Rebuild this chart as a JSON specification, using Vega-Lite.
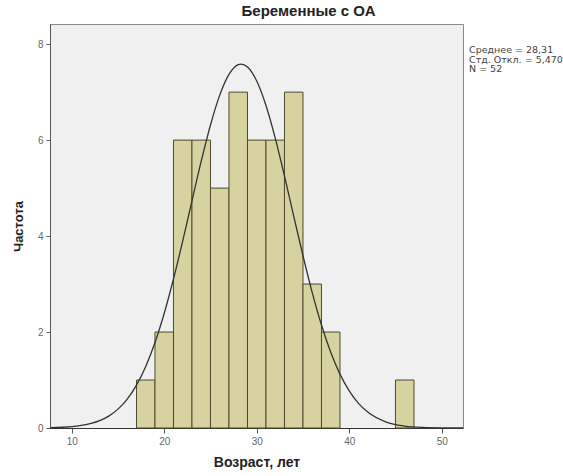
{
  "$schema": "https://vega.github.io/schema/vega-lite/v6.json",
  "width": 413,
  "height": 404,
  "autosize": {"type": "none"},
  "padding": {"left": 50, "top": 24, "right": 100, "bottom": 48},
  "background": "#ffffff",
  "config": {
    "view": {"fill": "#f0f0f0", "stroke": "#8a8a8a", "strokeWidth": 1},
    "font": "Liberation Sans"
  },
  "title": {
    "text": "Беременные с ОА",
    "font": "Liberation Sans",
    "fontSize": 15,
    "fontWeight": "bold",
    "color": "#222222",
    "anchor": "middle",
    "offset": 5,
    "dx": 52
  },
  "datasets": {
    "bars": [
      {"bin_start": 17, "bin_end": 19, "count": 1},
      {"bin_start": 19, "bin_end": 21, "count": 2},
      {"bin_start": 21, "bin_end": 23, "count": 6},
      {"bin_start": 23, "bin_end": 25, "count": 6},
      {"bin_start": 25, "bin_end": 27, "count": 5},
      {"bin_start": 27, "bin_end": 29, "count": 7},
      {"bin_start": 29, "bin_end": 31, "count": 6},
      {"bin_start": 31, "bin_end": 33, "count": 6},
      {"bin_start": 33, "bin_end": 35, "count": 7},
      {"bin_start": 35, "bin_end": 37, "count": 3},
      {"bin_start": 37, "bin_end": 39, "count": 2},
      {"bin_start": 45, "bin_end": 47, "count": 1}
    ],
    "curve": [
      {"age": 7.7, "freq": 0.006},
      {"age": 10, "freq": 0.028},
      {"age": 12, "freq": 0.089},
      {"age": 14, "freq": 0.247},
      {"age": 15, "freq": 0.393},
      {"age": 16, "freq": 0.603},
      {"age": 17, "freq": 0.894},
      {"age": 18, "freq": 1.284},
      {"age": 19, "freq": 1.782},
      {"age": 20, "freq": 2.392},
      {"age": 21, "freq": 3.105},
      {"age": 22, "freq": 3.899},
      {"age": 23, "freq": 4.735},
      {"age": 24, "freq": 5.561},
      {"age": 25, "freq": 6.316},
      {"age": 26, "freq": 6.938},
      {"age": 27, "freq": 7.37},
      {"age": 28, "freq": 7.573},
      {"age": 28.31, "freq": 7.585},
      {"age": 29, "freq": 7.525},
      {"age": 30, "freq": 7.232},
      {"age": 31, "freq": 6.721},
      {"age": 32, "freq": 6.041},
      {"age": 33, "freq": 5.252},
      {"age": 34, "freq": 4.415},
      {"age": 35, "freq": 3.59},
      {"age": 36, "freq": 2.823},
      {"age": 37, "freq": 2.147},
      {"age": 38, "freq": 1.579},
      {"age": 39, "freq": 1.123},
      {"age": 40, "freq": 0.773},
      {"age": 41, "freq": 0.514},
      {"age": 42, "freq": 0.331},
      {"age": 44, "freq": 0.124},
      {"age": 46, "freq": 0.041},
      {"age": 48, "freq": 0.012},
      {"age": 50, "freq": 0.003},
      {"age": 52.3, "freq": 0.001}
    ],
    "stats": [
      {"label": ["Среднее = 28,31", " Стд. Откл. = 5,470", "N = 52"]}
    ]
  },
  "layer": [
    {
      "data": {"name": "bars"},
      "mark": {"type": "rect", "fill": "#d6d3a0", "stroke": "#4f4a2c", "strokeWidth": 1},
      "encoding": {
        "x": {
          "field": "bin_start",
          "type": "quantitative",
          "scale": {"domain": [7.65, 52.3], "nice": false, "zero": false},
          "axis": {
            "title": "Возраст, лет",
            "values": [10, 20, 30, 40, 50],
            "grid": false,
            "domain": true,
            "domainColor": "#333333",
            "tickColor": "#555555",
            "tickSize": 5,
            "labelFontSize": 10,
            "labelColor": "#666666",
            "labelPadding": 3,
            "titleFont": "Liberation Sans",
            "titleFontSize": 14,
            "titleFontWeight": "bold",
            "titleColor": "#222222",
            "titlePadding": 9
          }
        },
        "x2": {"field": "bin_end"},
        "y": {
          "field": "count",
          "type": "quantitative",
          "scale": {"domain": [0, 8.42], "nice": false},
          "axis": {
            "title": "Частота",
            "values": [0, 2, 4, 6, 8],
            "grid": false,
            "domain": true,
            "domainColor": "#555555",
            "tickColor": "#555555",
            "tickSize": 4,
            "labelFontSize": 10,
            "labelColor": "#666666",
            "labelPadding": 3,
            "titleFont": "Liberation Sans",
            "titleFontSize": 13,
            "titleFontWeight": "bold",
            "titleColor": "#222222",
            "titlePadding": 12
          }
        },
        "y2": {"datum": 0}
      }
    },
    {
      "data": {"name": "curve"},
      "mark": {"type": "line", "color": "#333333", "strokeWidth": 1.3, "interpolate": "monotone", "clip": true},
      "encoding": {
        "x": {"field": "age", "type": "quantitative"},
        "y": {"field": "freq", "type": "quantitative"}
      }
    },
    {
      "data": {"name": "stats"},
      "mark": {"type": "text", "align": "left", "baseline": "top", "fontSize": 9.5, "color": "#444444", "lineHeight": 9.5, "font": "DejaVu Sans"},
      "encoding": {
        "x": {"datum": 52.95},
        "y": {"datum": 7.98},
        "text": {"field": "label"}
      }
    }
  ]
}
